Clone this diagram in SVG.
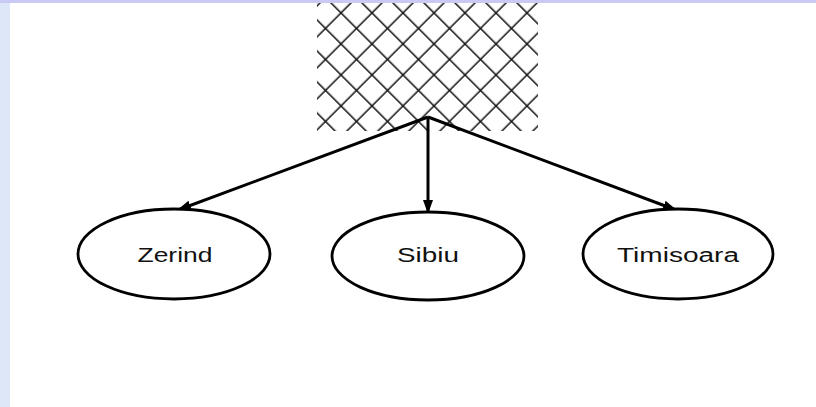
<svg xmlns="http://www.w3.org/2000/svg" width="816" height="407" viewBox="0 0 816 407">
<style>
.node ellipse{fill:#fff;stroke:#000;stroke-width:2.8}
.node text{font-family:"Liberation Sans",Arial,sans-serif;font-size:20px;fill:#111;text-anchor:middle}
.edge{stroke:#000;stroke-width:3;fill:none;marker-end:url(#ah)}
</style>
<defs>
<pattern id="hatch" patternUnits="userSpaceOnUse" width="21.92" height="21.92" patternTransform="rotate(45)">
<line x1="9.19" y1="0" x2="9.19" y2="21.92" stroke="#111" stroke-width="1.5"/>
<line x1="0" y1="9.19" x2="21.92" y2="9.19" stroke="#111" stroke-width="1.5"/>
</pattern>
<marker id="ah" markerUnits="userSpaceOnUse" markerWidth="16" markerHeight="12" refX="13" refY="5" orient="auto">
<path d="M0,0 L14,5 L0,10 Z" fill="#000"/>
</marker>
</defs>
<rect x="0" y="0" width="816" height="407" fill="#fff"/>
<rect x="0" y="0" width="10" height="407" fill="#dde7f8"/>
<rect id="hatched" x="317" y="0" width="221" height="131" fill="url(#hatch)"/>
<rect x="0" y="0" width="816" height="3" fill="#c9c9f6"/>
<g id="connectors">
<line class="edge" x1="428" y1="117" x2="178" y2="210"/>
<line class="edge" x1="428" y1="117" x2="428" y2="213"/>
<line class="edge" x1="428" y1="117" x2="676" y2="210"/>
</g>
<g id="zerind" class="node">
<ellipse cx="174" cy="254" rx="96" ry="45"/>
<text x="175" y="262" textLength="75" lengthAdjust="spacingAndGlyphs">Zerind</text>
</g>
<g id="sibiu" class="node">
<ellipse cx="428" cy="256" rx="96" ry="44"/>
<text x="428" y="262" textLength="62" lengthAdjust="spacingAndGlyphs">Sibiu</text>
</g>
<g id="timisoara" class="node">
<ellipse cx="678" cy="254" rx="95" ry="45"/>
<text x="678" y="262" textLength="122" lengthAdjust="spacingAndGlyphs">Timisoara</text>
</g>
</svg>
